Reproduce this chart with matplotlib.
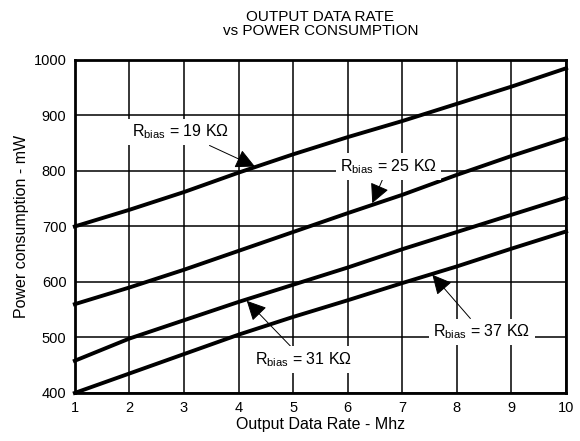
import matplotlib
matplotlib.use("Agg")
import matplotlib.pyplot as plt

plt.rcParams['font.family'] = ['Liberation Sans', 'DejaVu Sans']
plt.rcParams['mathtext.fontset'] = 'custom'
plt.rcParams['mathtext.rm'] = 'Liberation Sans'

# output data rate (MHz)
rate = [1, 2, 3, 4, 5, 6, 7, 8, 9, 10]

# power consumption (mW) for each bias resistor
p_19k = [700, 730, 762, 797, 830, 861, 890, 921, 952, 985]
p_25k = [560, 590, 622, 656, 690, 724, 757, 793, 827, 859]
p_31k = [458, 498, 531, 564, 595, 626, 659, 690, 721, 752]
p_37k = [400, 435, 470, 505, 537, 567, 598, 628, 660, 691]

fig = plt.figure(figsize=(5.8, 4.41), dpi=100)
ax = fig.add_axes([0.129, 0.109, 0.847, 0.755])

for p in (p_19k, p_25k, p_31k, p_37k):
    ax.plot(rate, p, color='black', lw=2.8, zorder=3, clip_on=False)

ax.set_xlim(1, 10)
ax.set_ylim(400, 1000)
ax.set_xticks(range(1, 11))
ax.set_yticks(range(400, 1001, 100))
ax.grid(True, color='black', lw=1.1)
ax.set_axisbelow(True)
for s in ax.spines.values():
    s.set_linewidth(2)
ax.tick_params(length=0, labelsize=10.5, pad=6)

ax.set_xlabel('Output Data Rate - Mhz', fontsize=11.5, labelpad=1)
ax.set_ylabel('Power consumption - mW', fontsize=11.5, labelpad=3)
ax.set_title('OUTPUT DATA RATE\nvs POWER CONSUMPTION', fontsize=11, pad=18, linespacing=1.0)

box = dict(boxstyle='square,pad=0.25', fc='white', ec='none')
arrow = dict(arrowstyle='-|>,head_length=0.6,head_width=0.3', color='black', lw=0.7,
             mutation_scale=20, shrinkA=0, shrinkB=0)

ax.annotate(r'R$_{\mathrm{bias}}$ = 19 K$\Omega$', xy=(4.3, 808), xytext=(2.05, 870),
            fontsize=11.5, va='center', ha='left', bbox=box, arrowprops=arrow, zorder=4)
ax.annotate(r'R$_{\mathrm{bias}}$ = 25 K$\Omega$', xy=(6.45, 742), xytext=(5.85, 808),
            fontsize=11.5, va='center', ha='left', bbox=box, arrowprops=arrow, zorder=4)
ax.annotate(r'R$_{\mathrm{bias}}$ = 31 K$\Omega$', xy=(4.15, 566), xytext=(4.3, 460),
            fontsize=11.5, va='center', ha='left', bbox=box, arrowprops=arrow, zorder=4)
ax.annotate(r'R$_{\mathrm{bias}}$ = 37 K$\Omega$', xy=(7.55, 613), xytext=(7.57, 510),
            fontsize=11.5, va='center', ha='left', bbox=box, arrowprops=arrow, zorder=4)

fig.savefig('out.png', dpi=100)
